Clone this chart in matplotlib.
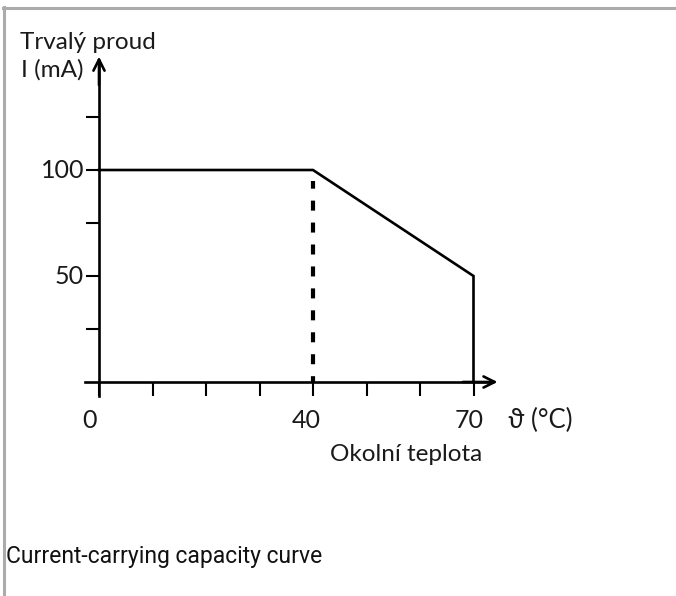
import matplotlib
matplotlib.use("Agg")
import matplotlib.pyplot as plt
from matplotlib.lines import Line2D

# ---- data ----
temp = [0, 40, 70, 70]            # °C
current = [100, 100, 50, 0]       # mA
knee_x = [40, 40]
knee_y = [0, 94.8]
x_ticks = [0, 10, 20, 30, 40, 50, 60, 70]
x_labels = {0: "0", 40: "40", 70: "70"}
y_ticks = [25, 50, 75, 100, 125]
y_labels = {50: "50", 100: "100"}

W, H = 676, 596
FAM = ['Lato', 'DejaVu Sans']
plt.rcParams['font.family'] = FAM
plt.rcParams['lines.scale_dashes'] = False

fig = plt.figure(figsize=(W / 100, H / 100), dpi=100)
fig.patch.set_facecolor('white')

x0_px, y0_px = 99, 382
sx, sy = 5.35, 2.12
ax = fig.add_axes([0, 0, 1, 1])
ax.set_xlim(-x0_px / sx, (W - x0_px) / sx)
ax.set_ylim(-(H - y0_px) / sy, y0_px / sy)
ax.patch.set_alpha(0)

lw_axis = 1.9
for s in ['top', 'right']:
    ax.spines[s].set_visible(False)
ax.spines['left'].set_position(('data', 0))
ax.spines['bottom'].set_position(('data', 0))
ax.spines['left'].set_bounds(-6.6, 150)
ax.spines['bottom'].set_bounds(-2.6, 73.5)
ax.spines['left'].set_linewidth(lw_axis)
ax.spines['bottom'].set_linewidth(lw_axis)

ax.annotate('', xy=(0, 153.5), xytext=(0, 140),
            arrowprops=dict(arrowstyle='->', lw=lw_axis, color='black', mutation_scale=20,
                            shrinkA=0, shrinkB=0))
ax.annotate('', xy=(74.5, 0), xytext=(68, 0),
            arrowprops=dict(arrowstyle='->', lw=lw_axis, color='black', mutation_scale=20,
                            shrinkA=0, shrinkB=0))

ax.set_xticks(x_ticks)
ax.set_xticklabels([''] * len(x_ticks))
ax.set_yticks(y_ticks)
ax.set_yticklabels([''] * len(y_ticks))
ax.tick_params(axis='x', direction='out', length=10, width=1.5)
ax.tick_params(axis='y', direction='out', length=9.5, width=1.5)

ax.plot(temp, current, color='black', lw=1.9, solid_joinstyle='miter')
ax.plot(knee_x, knee_y, color='black', lw=3.0, linestyle=(3, (7.2, 8.6)))

tick_fs = 18
x_shift = {0: -1.8, 40: -1.2, 70: -0.9}
for v, t in x_labels.items():
    ax.text(v + x_shift[v], -(428 - y0_px) / sy, t, ha='center', va='baseline',
            fontsize=tick_fs, color='#1a1a1a')
for v, t in y_labels.items():
    ax.text(-(x0_px - 84) / sx, v, t, ha='right', va='center',
            fontsize=tick_fs, color='#1a1a1a')


def px(x, y):
    return (x / W, 1 - y / H)


txt_fs = 17.5
fig.text(*px(20, 49), "Trvalý proud", fontsize=txt_fs, color='#1a1a1a', va='baseline', ha='left')
fig.text(*px(21, 77), "I (mA)", fontsize=txt_fs, color='#1a1a1a', va='baseline', ha='left')
fig.text(*px(508, 428), "ϑ (°C)", fontsize=18.5, color='#1a1a1a', va='baseline', ha='left')
fig.text(*px(330, 461), "Okolní teplota", fontsize=txt_fs, color='#1a1a1a', va='baseline', ha='left')
fig.text(*px(6, 563), "Current-carrying capacity curve", fontsize=16.5, color='#111111',
         va='baseline', ha='left', family=['Roboto', 'DejaVu Sans'])

fig.add_artist(Line2D([3 / W, 1], [1 - 8 / H, 1 - 8 / H], transform=fig.transFigure,
                      color='#a9abae', lw=2.2))
fig.add_artist(Line2D([4 / W, 4 / W], [1 - 7 / H, 0], transform=fig.transFigure,
                      color='#a9abae', lw=2.2))

fig.savefig('out.png', dpi=100, facecolor='white')
